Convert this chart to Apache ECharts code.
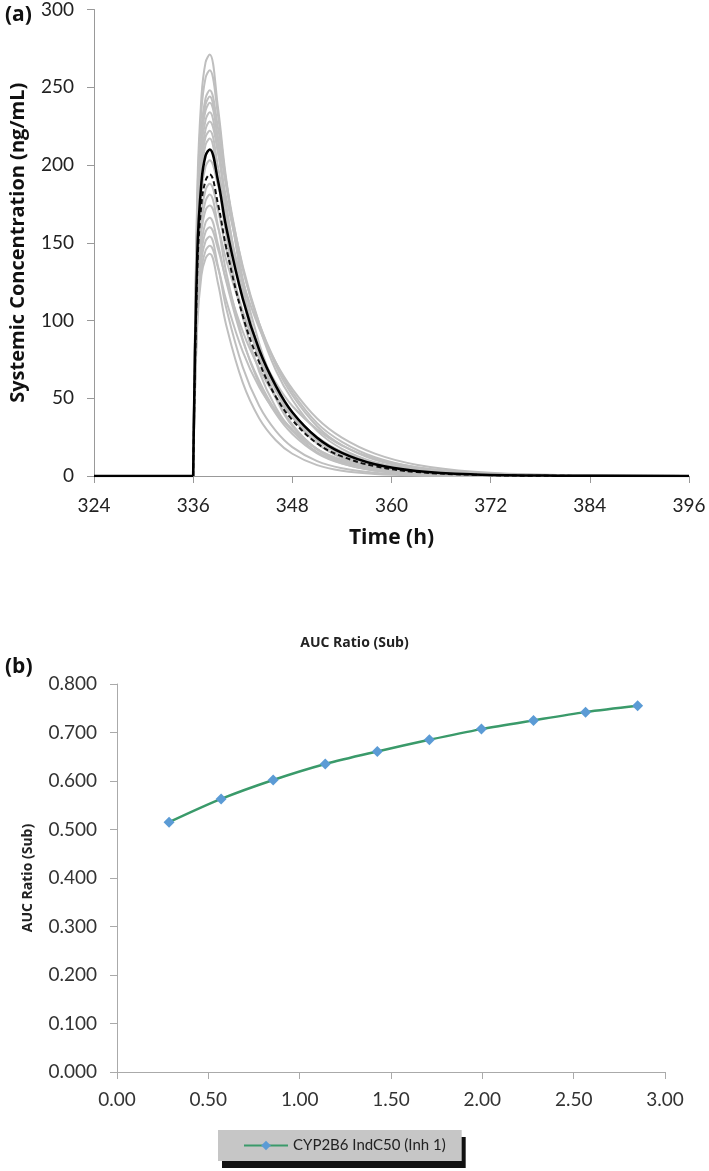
<!DOCTYPE html>
<html><head><meta charset="utf-8">
<script src="https://cdn.jsdelivr.net/npm/echarts@6/dist/echarts.min.js"></script>
<style>html,body{margin:0;padding:0;background:#fff}#c{width:709px;height:1171px}</style>
</head><body><div id="c"></div>
<script>
// Panel (a): time points (h)
const times = [324, 336, 336.5, 337, 337.5, 338, 339, 340, 342, 344, 346, 348, 351, 354, 358, 363, 370, 380, 396];
// individual simulated profiles (grey)
const gray01 = [0,0,184,244,266,271,237,191,123,79,51,33,17,8.8,3.6,1.2,0.3,0,0];
const gray02 = [0,0,177,235,256,261,232,189,127,85,57,38,21,11.5,5.2,1.9,0.5,0.1,0];
const gray03 = [0,0,169,223,243,248,224,189,134,96,68,49,29,17.5,8.9,3.8,1.2,0.2,0];
const gray04 = [0,0,166,220,239,244,215,174,115,75,50,32,17.3,9.2,4.0,1.4,0.3,0,0];
const gray05 = [0,0,163,216,235,240,218,186,135,98,71,52,32,19.8,10.4,4.7,1.5,0.3,0];
const gray06 = [0,0,159,211,229,234,209,173,118,81,55,38,21,12.1,5.6,2.2,0.6,0.1,0];
const gray07 = [0,0,155,205,223,228,208,179,133,98,73,54,34,22,12.1,5.7,2.0,0.4,0];
const gray08 = [0,0,151,200,218,222,199,167,116,81,57,40,23,13.4,6.5,2.6,0.8,0.1,0];
const gray09 = [0,0,148,195,213,217,191,155,102,67,44,29,15.4,8.2,3.5,1.2,0.3,0,0];
const gray10 = [0,0,138,183,199,203,187,164,125,95,73,56,37,24.7,14.4,7.3,2.8,0.7,0];
const gray11 = [0,0,128,169,184,188,171,146,106,77,56,40,25,15.5,8.2,3.7,1.2,0.2,0];
const gray12 = [0,0,123,163,177,181,161,131,88,59,40,27,14.6,8.0,3.6,1.3,0.3,0,0];
const gray13 = [0,0,118,157,171,174,160,139,105,80,60,45,30,19.6,11.2,5.6,2.1,0.5,0];
const gray14 = [0,0,113,149,163,166,149,125,87,61,42,30,17.2,10.0,4.9,2.0,0.6,0.1,0];
const gray15 = [0,0,109,144,157,160,146,126,93,69,51,38,24,15.4,8.5,4.0,1.4,0.3,0];
const gray16 = [0,0,105,139,151,154,135,108,70,45,29,18.6,9.6,5.0,2.1,0.7,0.1,0,0];
const gray17 = [0,0,101,133,145,148,134,113,80,57,41,29,17.3,10.4,5.3,2.3,0.7,0.1,0];
const gray18 = [0,0,97,129,140,143,124,97,60,37,23,14.3,7.0,3.4,1.3,0.4,0.1,0,0];
// summary profiles (black solid and black dashed)
const meanSolid = [0,0,143,189,206,210,190,160,114,81,58,41,24.6,14.8,7.5,3.2,1.0,0.2,0];
const meanDashed = [0,0,132,175,190,194,175,147,103,73,51,36,21,12.6,6.3,2.6,0.8,0.1,0];

// Panel (b)
const indC50 = [0.285, 0.570, 0.855, 1.140, 1.425, 1.710, 1.995, 2.280, 2.565, 2.850];
const aucRatio = [0.515, 0.563, 0.602, 0.635, 0.661, 0.685, 0.707, 0.725, 0.742, 0.755];
const seriesNameB = 'CYP2B6 IndC50 (Inh 1)';

const grays = [gray01,gray02,gray03,gray04,gray05,gray06,gray07,gray08,gray09,gray10,gray11,gray12,gray13,gray14,gray15,gray16,gray17,gray18];
const DOSE_T = 336;
// curve part from dosing time onwards (smoothed); flat pre-dose part drawn separately
const post = arr => times.map((t,i)=>[t, arr[i]]).filter(p => p[0] >= DOSE_T);
const pre = arr => times.map((t,i)=>[t, arr[i]]).filter(p => p[0] <= DOSE_T);
const FONT = 'Lato, "Open Sans", sans-serif';
const FONTB = '"Open Sans", Lato, sans-serif';

const series = [];
grays.forEach(g=>{
  series.push({type:'line', xAxisIndex:0, yAxisIndex:0, data:post(g), smooth:0.4,
    symbol:'none', lineStyle:{color:'#bfbfbf', width:2}, silent:true, z:2});
});
series.push({type:'line', xAxisIndex:0, yAxisIndex:0, data:post(meanDashed), smooth:0.4,
  symbol:'none', lineStyle:{color:'#111', width:2, type:[5,3]}, z:4});
series.push({type:'line', xAxisIndex:0, yAxisIndex:0, data:pre(meanSolid),
  symbol:'none', lineStyle:{color:'#000', width:2.5}, z:5});
series.push({type:'line', xAxisIndex:0, yAxisIndex:0, data:post(meanSolid), smooth:0.4,
  symbol:'none', lineStyle:{color:'#000', width:2.5}, z:5});
series.push({type:'line', name:seriesNameB, xAxisIndex:1, yAxisIndex:1, data:indC50.map((x,i)=>[x,aucRatio[i]]),
  smooth:0.3, symbol:'diamond', symbolSize:11, itemStyle:{color:'#5b9bd5'},
  lineStyle:{color:'#3a9a6a', width:2.5}, z:5});

const chart = echarts.init(document.getElementById('c'), null, {renderer:'canvas'});
chart.setOption({
  animation:false,
  backgroundColor:'#fff',
  title:[
    {text:'(a)', left:0, top:0, textStyle:{fontFamily:FONTB, fontSize:21, fontWeight:'bold', color:'#111'}},
    {text:'(b)', left:0, top:652, textStyle:{fontFamily:FONTB, fontSize:21, fontWeight:'bold', color:'#111'}},
    {text:'AUC Ratio (Sub)', left:'center', top:631, textStyle:{fontFamily:FONTB, fontSize:14, fontWeight:'bold', color:'#222'}}
  ],
  legend:{data:[seriesNameB], left:218, top:1130, itemWidth:44, itemHeight:12, itemGap:0,
    padding:[8,16,8,25], backgroundColor:'#c6c6c6', shadowColor:'#111', shadowOffsetX:4, shadowOffsetY:7, shadowBlur:0,
    textStyle:{fontFamily:FONT, fontSize:15, color:'#222'}},
  grid:[
    {left:90, right:20, top:8, height:468},
    {left:117, right:44, top:684, height:388}
  ],
  xAxis:[
    {type:'value', gridIndex:0, min:324, max:396, interval:12,
     name:'Time (h)', nameLocation:'middle', nameGap:52,
     nameTextStyle:{fontFamily:FONTB, fontSize:21, fontWeight:'bold', color:'#111'},
     axisLine:{lineStyle:{color:'#999', width:1}}, axisTick:{show:true, length:7, lineStyle:{color:'#999'}},
     axisLabel:{fontFamily:FONT, fontSize:19, color:'#222', margin:20}, splitLine:{show:false}},
    {type:'value', gridIndex:1, min:0, max:3, interval:0.5,
     axisLine:{lineStyle:{color:'#aaa', width:1}}, axisTick:{show:true, length:7, lineStyle:{color:'#aaa'}},
     axisLabel:{fontFamily:FONT, fontSize:19, color:'#333', margin:18, formatter:v=>v.toFixed(2)}, splitLine:{show:false}}
  ],
  yAxis:[
    {type:'value', gridIndex:0, min:0, max:300, interval:50,
     name:'Systemic Concentration (ng/mL)', nameLocation:'middle', nameGap:66,
     nameTextStyle:{fontFamily:FONTB, fontSize:20, fontWeight:'bold', color:'#111'},
     axisLine:{show:true, lineStyle:{color:'#999', width:1}}, axisTick:{show:true, length:7, lineStyle:{color:'#999'}},
     axisLabel:{fontFamily:FONT, fontSize:19, color:'#222', margin:20}, splitLine:{show:false}},
    {type:'value', gridIndex:1, min:0, max:0.8, interval:0.1,
     name:'AUC Ratio (Sub)', nameLocation:'middle', nameGap:82,
     nameTextStyle:{fontFamily:FONTB, fontSize:14, fontWeight:'bold', color:'#222'},
     axisLine:{show:true, lineStyle:{color:'#aaa', width:1}}, axisTick:{show:true, length:7, lineStyle:{color:'#aaa'}},
     axisLabel:{fontFamily:FONT, fontSize:19, color:'#333', margin:20, formatter:v=>v.toFixed(3)}, splitLine:{show:false}}
  ],
  series: series
});
</script></body></html>
